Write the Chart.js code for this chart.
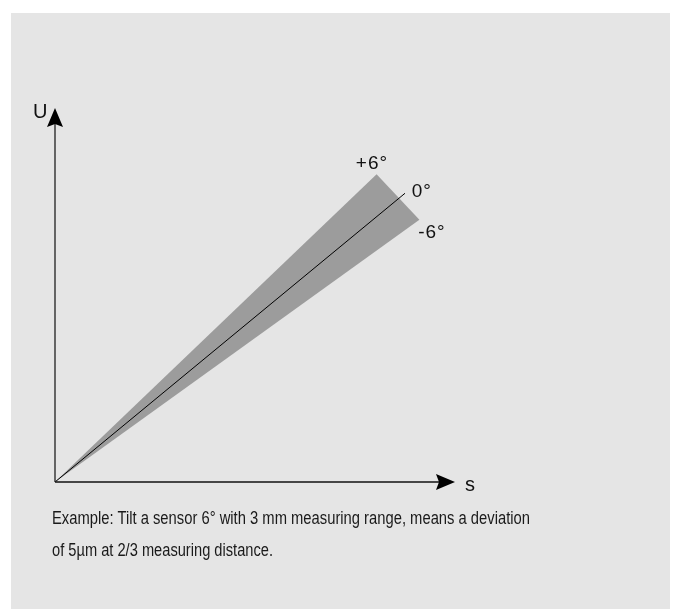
<!DOCTYPE html>
<html>
<head>
<meta charset="utf-8">
<script src="https://cdn.jsdelivr.net/npm/chart.js@4.4.1/dist/chart.umd.min.js"></script>
<style>
  html, body { margin: 0; padding: 0; background: #ffffff; }
  #wrap { position: relative; width: 675px; height: 609px; overflow: hidden; }
  #bg { position: absolute; left: 11px; top: 13px; width: 659px; height: 596px; background: #e5e5e5; }
  #c { position: absolute; left: 0; top: 0; }
  .cap {
    position: absolute; left: 52px; white-space: nowrap;
    font-family: "Liberation Sans", Arial, sans-serif;
    font-size: 17.5px; line-height: 20px; color: #1a1a1a;
    transform-origin: 0 50%;
  }
</style>
</head>
<body>
<div id="wrap">
  <div id="bg"></div>
  <canvas id="c" width="675" height="609"></canvas>
  <div class="cap" id="cap1" style="top:508px">Example: Tilt a sensor 6° with 3 mm measuring range, means a deviation</div>
  <div class="cap" id="cap2" style="top:540px">of 5µm at 2/3 measuring distance.</div>
</div>
<script>
// Axis ranges (abstract units)
const axisMax = 100;
const axisLabels = ['U', 's'];
// Wedge edge endpoints for tilt angles +6°, 0°, -6°
const angleLabels = ['+6°', '0°', '-6°'];
const edgeX = [80.4, 87.5, 91.1];
const edgeY = [82.3, 77.2, 70.1];
// label anchor positions (left/middle of text)
const labelX = [75.2, 89.2, 90.8];
const labelY = [85.0, 77.5, 66.6];
const axisLabelX = [-5.5, 102.5];
const axisLabelY = [98.9, -0.8];

// caption target widths (px) to match the condensed face of the original
const captionWidths = [478, 221];
['cap1', 'cap2'].forEach((id, i) => {
  const el = document.getElementById(id);
  const w = el.getBoundingClientRect().width;
  el.style.transform = 'scaleX(' + (captionWidths[i] / w) + ')';
});

const origin = { x: 0, y: 0 };
const wedgeData = [origin, { x: edgeX[0], y: edgeY[0] }, { x: edgeX[2], y: edgeY[2] }, origin];
const centerData = [origin, { x: edgeX[1], y: edgeY[1] }];

const FONT = '"Liberation Sans", Arial, sans-serif';

const overlay = {
  id: 'overlay',
  beforeDatasetsDraw(chart) {
    const { ctx, scales: { x, y } } = chart;
    ctx.save();
    ctx.fillStyle = '#9c9c9c';
    ctx.beginPath();
    wedgeData.forEach((p, i) => {
      const px = x.getPixelForValue(p.x), py = y.getPixelForValue(p.y);
      if (i === 0) ctx.moveTo(px, py); else ctx.lineTo(px, py);
    });
    ctx.closePath();
    ctx.fill();
    ctx.restore();
  },
  afterDatasetsDraw(chart) {
    const { ctx, scales: { x, y } } = chart;
    const ox = x.getPixelForValue(0), oy = y.getPixelForValue(0);
    const xe = x.getPixelForValue(axisMax), ye = y.getPixelForValue(axisMax);
    ctx.save();
    ctx.fillStyle = '#000';
    ctx.lineWidth = 1.6;
    // y axis
    ctx.strokeStyle = '#444';
    ctx.beginPath(); ctx.moveTo(ox, oy); ctx.lineTo(ox, ye + 12); ctx.stroke();
    // x axis
    ctx.strokeStyle = '#111';
    ctx.beginPath(); ctx.moveTo(ox, oy); ctx.lineTo(xe - 12, oy); ctx.stroke();
    // arrowheads
    ctx.beginPath();
    ctx.moveTo(ox, ye); ctx.lineTo(ox + 8, ye + 19); ctx.lineTo(ox, ye + 16); ctx.lineTo(ox - 8, ye + 19); ctx.closePath(); ctx.fill();
    ctx.beginPath();
    ctx.moveTo(xe, oy); ctx.lineTo(xe - 19, oy - 8); ctx.lineTo(xe - 16, oy); ctx.lineTo(xe - 19, oy + 8); ctx.closePath(); ctx.fill();
    // labels
    ctx.fillStyle = '#111';
    ctx.textBaseline = 'middle';
    ctx.textAlign = 'left';
    ctx.font = '20px ' + FONT;
    axisLabels.forEach((t, i) => ctx.fillText(t, x.getPixelForValue(axisLabelX[i]), y.getPixelForValue(axisLabelY[i])));
    ctx.font = '19px ' + FONT;
    try { ctx.letterSpacing = '1px'; } catch (e) {}
    angleLabels.forEach((t, i) => ctx.fillText(t, x.getPixelForValue(labelX[i]), y.getPixelForValue(labelY[i])));
    ctx.restore();
  }
};

new Chart(document.getElementById('c'), {
  type: 'scatter',
  data: {
    datasets: [{
      data: centerData,
      showLine: true,
      borderColor: '#000',
      borderWidth: 1,
      pointRadius: 0,
      fill: false
    }]
  },
  options: {
    responsive: false,
    animation: false,
    layout: { padding: { left: 55, right: 220, top: 108, bottom: 127 } },
    plugins: { legend: { display: false }, tooltip: { enabled: false } },
    scales: {
      x: { type: 'linear', min: 0, max: axisMax, display: false },
      y: { type: 'linear', min: 0, max: axisMax, display: false }
    }
  },
  plugins: [overlay]
});
</script>
</body>
</html>
